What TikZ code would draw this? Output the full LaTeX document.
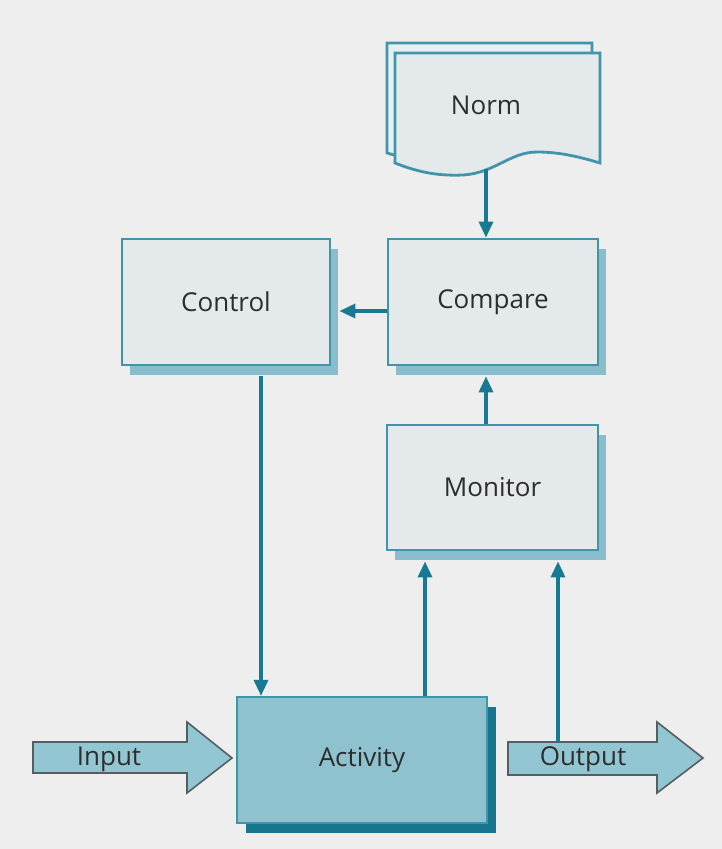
\documentclass[tikz,border=0pt]{standalone}
\usepackage{fontspec}
\setmainfont{Open Sans}
\usetikzlibrary{arrows.meta,shadows}

\definecolor{paper}{RGB}{238,238,238}
\definecolor{boxfill}{RGB}{228,233,235}
\definecolor{boxline}{RGB}{66,148,170}
\definecolor{boxshade}{RGB}{138,189,203}
\definecolor{flowline}{RGB}{22,122,146}
\definecolor{actfill}{RGB}{143,194,207}
\definecolor{actshade}{RGB}{23,118,141}
\definecolor{iofill}{RGB}{146,198,210}
\definecolor{ioline}{RGB}{85,94,96}
\definecolor{sheetfill}{RGB}{230,240,243}
\definecolor{label}{RGB}{45,45,45}

\tikzset{
  x=1pt, y=-1pt,
  lbl/.style={text=label, font=\fontsize{26}{30}\selectfont},
  procbox/.style={draw=boxline, line width=2.8pt, fill=boxfill, lbl,
    general shadow={fill=boxshade, shadow xshift=8pt, shadow yshift=-10pt}},
  actbox/.style={draw=boxline, line width=2.2pt, fill=actfill, lbl,
    general shadow={fill=actshade, shadow xshift=9pt, shadow yshift=-10pt}},
  iobody/.style={draw=ioline, line width=1.6pt, fill=iofill, line join=miter},
  sheet/.style={draw=boxline, line width=2.8pt},
  flow/.style={draw=flowline, line width=3.3pt,
    -{Triangle[length=16pt,width=14pt]}},
}

\begin{document}
\begin{tikzpicture}
  % page
  \fill[paper] (0,0) rectangle (722,849);
  \useasboundingbox (0,0) rectangle (722,849);

  % Norm: stacked document sheets
  \path[sheet, fill=sheetfill]
    (387,153) -- (387,43) -- (592,43) -- (592,153)
    .. controls (572,147) and (552,142) .. (529,142)
    .. controls (502,142) and (487,165) .. (455,165)
    .. controls (432,166) and (412,160) .. (387,153) -- cycle;
  \path[sheet, fill=boxfill]
    (395,163) -- (395,53) -- (600,53) -- (600,163)
    .. controls (580,157) and (560,152) .. (537,152)
    .. controls (510,152) and (495,173) .. (463,175)
    .. controls (440,176) and (420,173) .. (395,163) -- cycle;
  \node[lbl] (norm) at (486,105) {Norm};
  \coordinate (normfoot) at (486,169);

  % process boxes
  \node[procbox, minimum width=208pt, minimum height=126pt] (control) at (226,302) {Control};
  \node[procbox, minimum width=210pt, minimum height=126pt] (compare) at (493,302) {Compare};
  \node[procbox, minimum width=211pt, minimum height=125pt] (monitor) at (492.5,487.5) {Monitor};
  \node[actbox, minimum width=250pt, minimum height=126pt] (activity) at (362,760) {Activity};

  % input and output block arrows
  \path[iobody] (33,742) -- (187,742) -- (187,722) -- (232,758)
    -- (187,793) -- (187,773) -- (33,773) -- cycle;
  \node[lbl] (input) at (109,759) {Input};
  \path[iobody] (508,742) -- (657,742) -- (657,722) -- (703,758)
    -- (657,793) -- (657,775) -- (508,775) -- cycle;
  \node[lbl] (output) at (583,759) {Output};
  \coordinate (outtap) at (558,742);

  % connectors
  \draw[flow] (normfoot) -- (normfoot |- compare.north);
  \draw[flow] ([yshift=-9pt]compare.west) -- ([xshift=8pt,yshift=-9pt]control.east);
  \draw[flow] (monitor.north -| normfoot) -- ([yshift=-10pt]compare.south -| normfoot);
  \draw[flow] ([yshift=-10pt]control.south -| 261,0) -- (activity.north -| 261,0);
  \draw[flow] (activity.north -| 425,0) -- ([yshift=-10pt]monitor.south -| 425,0);
  \draw[flow] (outtap) -- ([yshift=-10pt]monitor.south -| outtap);
\end{tikzpicture}
\end{document}
